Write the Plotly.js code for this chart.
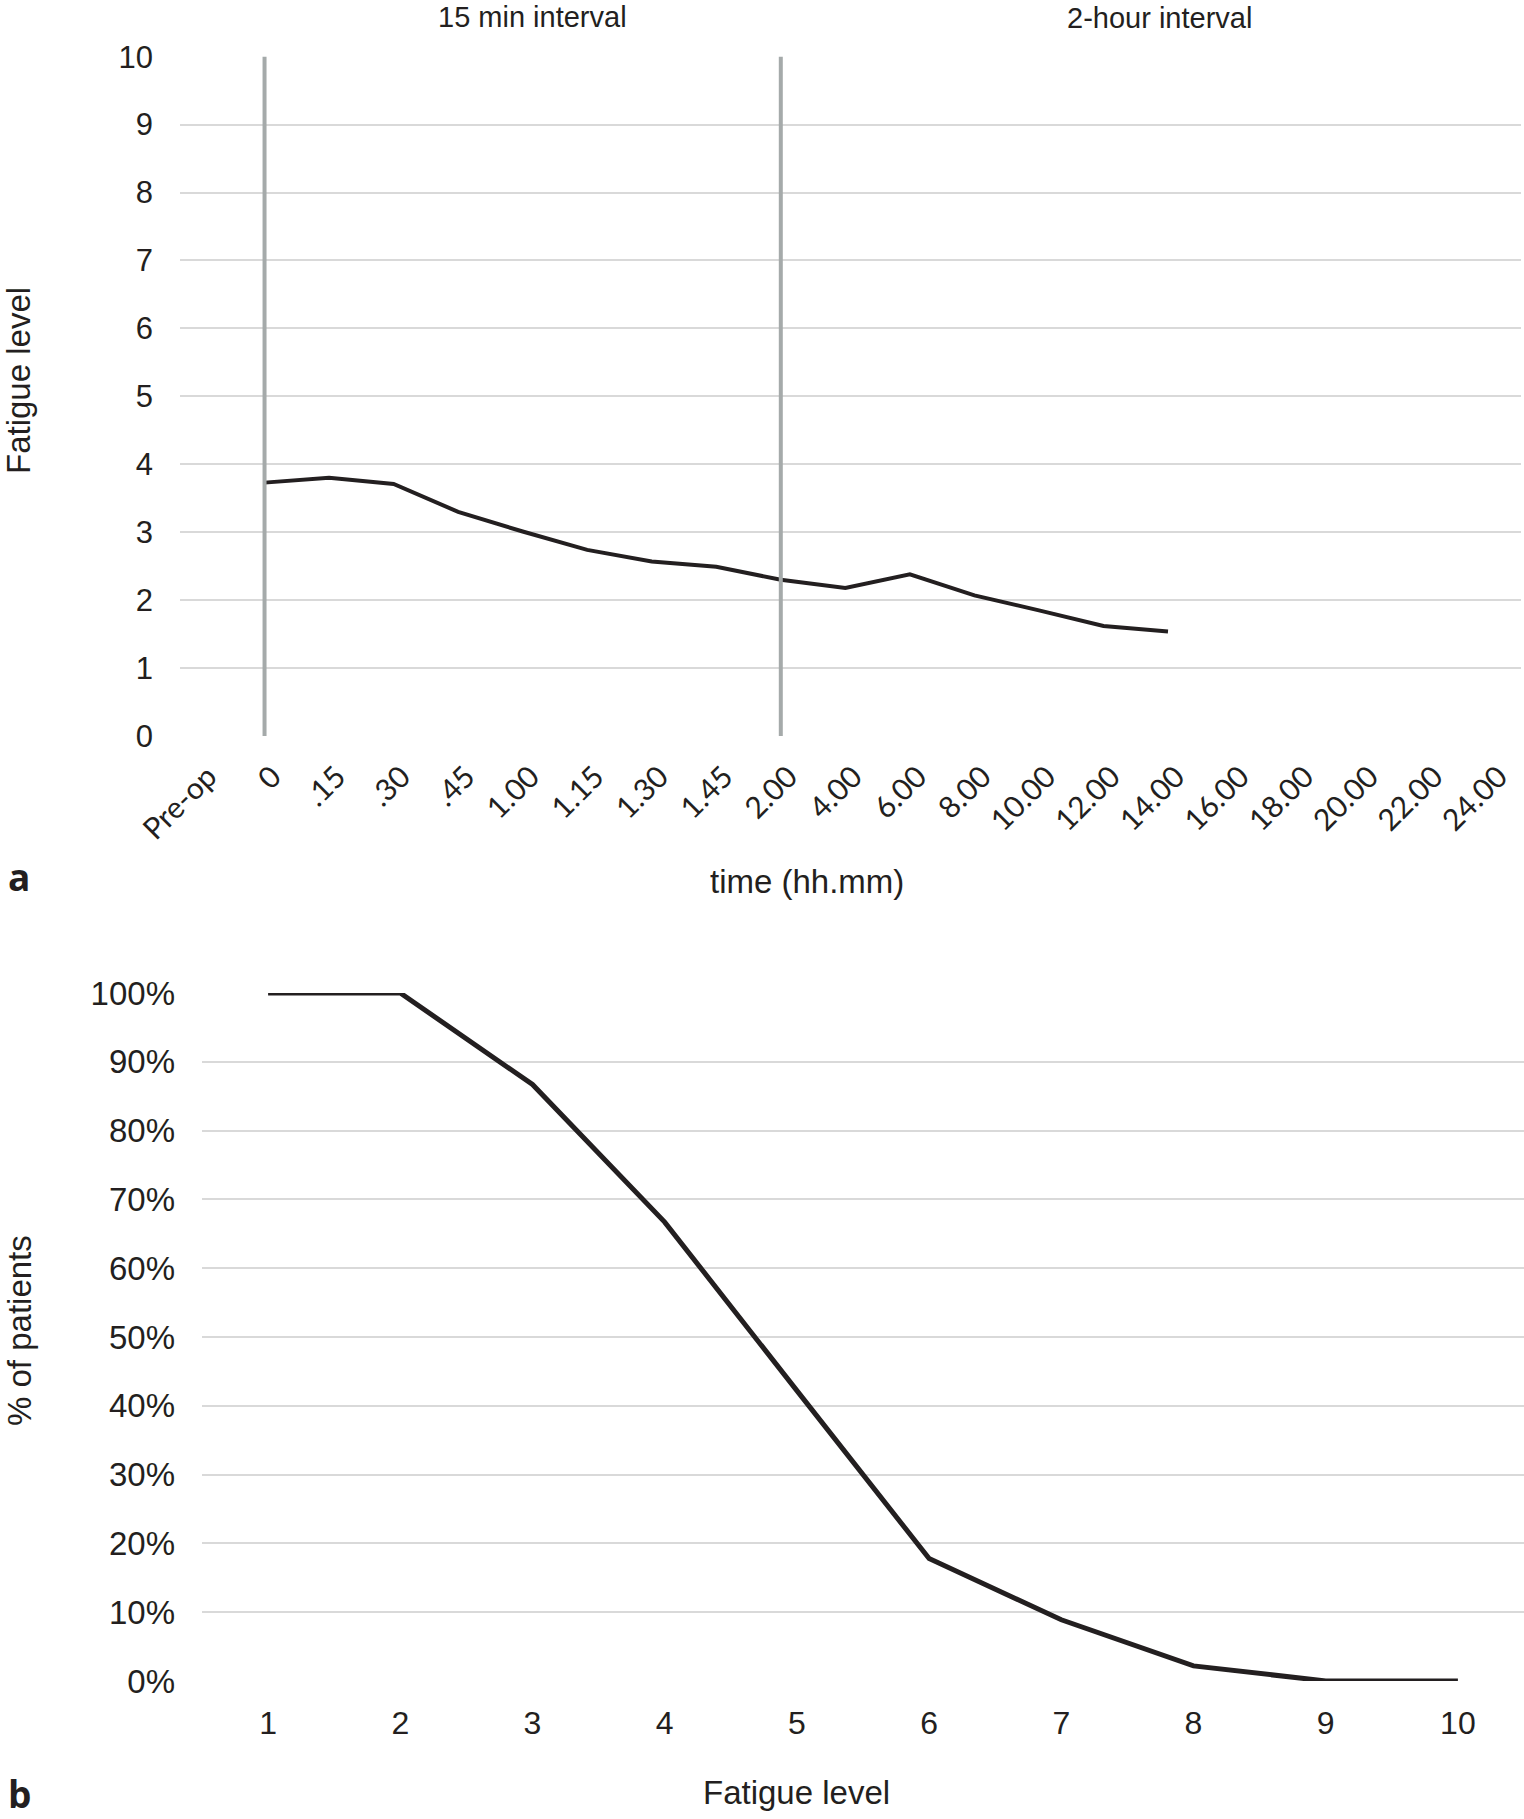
<!DOCTYPE html>
<html>
<head>
<meta charset="utf-8">
<script src="https://cdn.plot.ly/plotly-3.0.1.min.js"></script>
<style>
  html, body { margin: 0; padding: 0; background: #ffffff; }
  #chart { width: 1524px; height: 1819px; }
</style>
</head>
<body>
<div id="chart"></div>
<script>
// ---- Data (panel a) ----
const timeLabels = ['Pre-op', '0', '.15', '.30', '.45', '1.00', '1.15', '1.30', '1.45', '2.00',
  '4.00', '6.00', '8.00', '10.00', '12.00', '14.00', '16.00', '18.00', '20.00', '22.00', '24.00'];
const measuredTimes = ['0', '.15', '.30', '.45', '1.00', '1.15', '1.30', '1.45', '2.00',
  '4.00', '6.00', '8.00', '10.00', '12.00', '14.00'];
const fatigueMean = [3.73, 3.80, 3.71, 3.30, 3.01, 2.74, 2.57, 2.49, 2.30, 2.18, 2.38, 2.07, 1.85, 1.62, 1.54];
const intervalMarks = ['0', '2.00'];
const intervalNames = ['15 min interval', '2-hour interval'];
const fatigueTicks = [0, 1, 2, 3, 4, 5, 6, 7, 8, 9, 10];

// ---- Data (panel b) ----
const fatigueLevels = ['1', '2', '3', '4', '5', '6', '7', '8', '9', '10'];
const pctPatients = [100, 100, 86.7, 66.7, 42.2, 17.8, 8.9, 2.2, 0, 0];
const pctTicks = [0, 10, 20, 30, 40, 50, 60, 70, 80, 90, 100];
const pctTickText = pctTicks.map(v => v + '%');

// ---- Layout helpers (pixels -> paper) ----
const W = 1524, H = 1819;
const px = v => v / W;
const py = v => 1 - v / H;

const ink = '#231f20';
const arial = 'Liberation Sans, Arial, sans-serif';
const humanist = 'Lato, Open Sans, sans-serif';
const gridCol = '#d9d9d9';

const traces = [
  { // keeps all time categories on the axis
    type: 'scatter', mode: 'lines', x: timeLabels, y: timeLabels.map(() => null),
    xaxis: 'x', yaxis: 'y', showlegend: false, hoverinfo: 'skip'
  },
  {
    type: 'scatter', mode: 'lines', x: measuredTimes, y: fatigueMean,
    xaxis: 'x', yaxis: 'y', showlegend: false,
    line: { color: ink, width: 4 }
  },
  {
    type: 'scatter', mode: 'lines', x: fatigueLevels, y: pctPatients,
    xaxis: 'x2', yaxis: 'y2', showlegend: false,
    line: { color: ink, width: 5 }
  }
];

const shapes = intervalMarks.map(c => ({
  type: 'line', xref: 'x', yref: 'y',
  x0: timeLabels.indexOf(c), x1: timeLabels.indexOf(c), y0: -0.03, y1: 10.03,
  line: { color: '#a5aaaa', width: 4 }, layer: 'above'
}));

const annotations = [
  { text: intervalNames[0], x: px(532), y: py(17) },
  { text: intervalNames[1], x: px(1159), y: py(18) },
  { text: 'time (hh.mm)', x: px(807), y: py(882), size: 33 },
  { text: 'Fatigue level', x: px(18), y: py(381), size: 33, angle: -90 },
  { text: '% of patients', x: px(19), y: py(1331), size: 33, angle: -90 },
  { text: 'Fatigue level', x: px(796), y: py(1792), size: 33 },
  { text: '<b>a</b>', x: px(19), y: py(876), size: 37, family: 'Open Sans, sans-serif' },
  { text: '<b>b</b>', x: px(19), y: py(1793), size: 37, family: 'Open Sans, sans-serif' }
].map(a => ({
  text: a.text, x: a.x, y: a.y, xref: 'paper', yref: 'paper',
  xanchor: 'center', yanchor: 'middle', showarrow: false,
  textangle: a.angle || 0,
  font: { family: a.family || arial, size: a.size || 29, color: ink }
}));

const layout = {
  width: W, height: H,
  margin: { l: 0, r: 0, t: 0, b: 0 },
  paper_bgcolor: '#ffffff', plot_bgcolor: '#ffffff',
  showlegend: false,
  xaxis: {
    domain: [px(180), px(1521)],
    type: 'category', categoryorder: 'array', categoryarray: timeLabels,
    range: [-0.31, 20.47],
    showgrid: false, zeroline: false, showline: false,
    ticks: '', tickangle: -45, ticklabelstandoff: 16, ticklabelshift: 8,
    tickfont: { family: humanist, size: 30, color: ink },
    anchor: 'y', automargin: false
  },
  yaxis: {
    domain: [py(736), py(56.7)],
    range: [0, 10], tickvals: fatigueTicks,
    showgrid: true, gridcolor: gridCol, gridwidth: 2,
    zeroline: false, showline: false, ticks: '', ticklabelstandoff: 26,
    tickfont: { family: arial, size: 31, color: ink },
    anchor: 'x', automargin: false
  },
  xaxis2: {
    domain: [px(202), 1],
    type: 'category', categoryorder: 'array', categoryarray: fatigueLevels,
    range: [-0.5, 9.5],
    showgrid: false, zeroline: false, showline: false,
    ticks: '', ticklabelstandoff: 20,
    tickfont: { family: arial, size: 32, color: ink },
    anchor: 'y2', automargin: false
  },
  yaxis2: {
    domain: [py(1681), py(993)],
    range: [0, 100], tickmode: 'array', tickvals: pctTicks, ticktext: pctTickText,
    showgrid: true, gridcolor: gridCol, gridwidth: 2,
    zeroline: false, showline: false, ticks: '', ticklabelstandoff: 26,
    tickfont: { family: arial, size: 33, color: ink },
    anchor: 'x2', automargin: false
  },
  shapes: shapes,
  annotations: annotations
};

Plotly.newPlot('chart', traces, layout, { displayModeBar: false, staticPlot: true });
</script>
</body>
</html>
